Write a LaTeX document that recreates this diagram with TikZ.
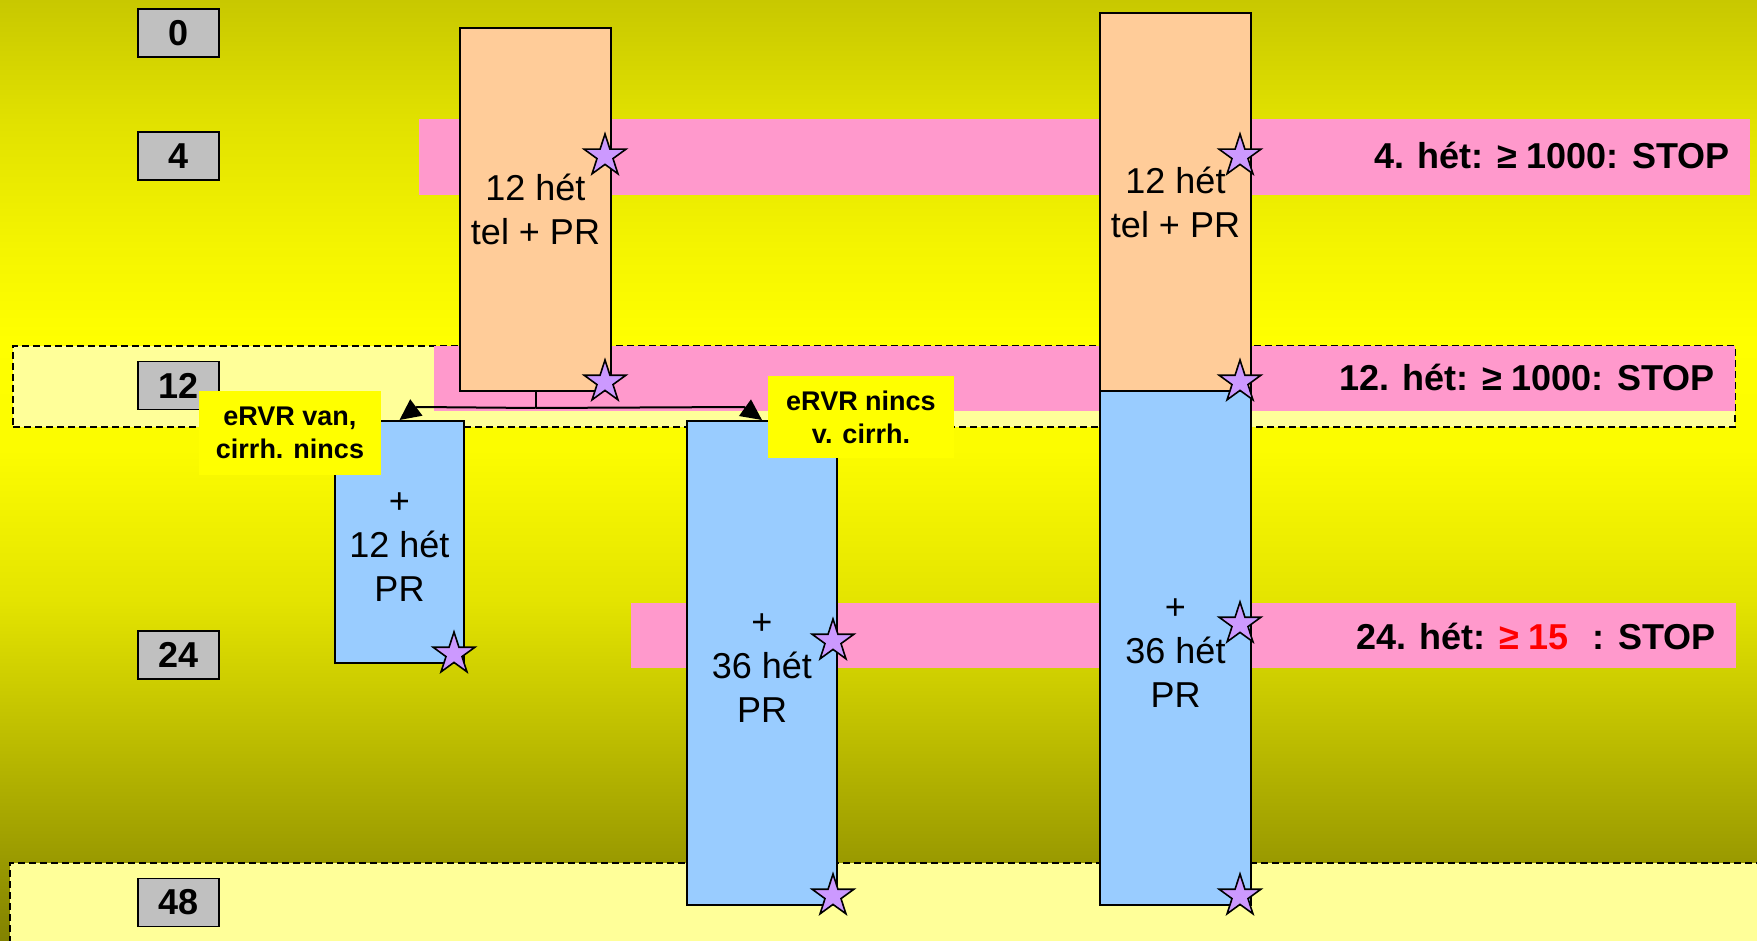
\documentclass[tikz,border=0pt]{standalone}
\usepackage{fontspec}
\setmainfont{Liberation Sans}
\usetikzlibrary{shapes.geometric,arrows.meta}
\definecolor{pinkband}{HTML}{FF99CC}
\definecolor{lightyel}{HTML}{FFFF99}
\definecolor{grayfill}{HTML}{C0C0C0}
\definecolor{orangefill}{HTML}{FFCC99}
\definecolor{bluefill}{HTML}{99CCFF}
\definecolor{starfill}{HTML}{CC99FF}
\definecolor{lblyel}{HTML}{FFFF00}
\definecolor{redtext}{HTML}{FF0000}
\pgfdeclareverticalshading{bgshade}{100bp}{rgb(0bp)=(0.51,0.51,0); rgb(25bp)=(0.51,0.51,0); rgb(29.14bp)=(0.6,0.6,0); rgb(37.81bp)=(0.784,0.784,0); rgb(43.12bp)=(0.894,0.894,0); rgb(51.09bp)=(0.988,0.988,0); rgb(56.93bp)=(1,1,0); rgb(61.72bp)=(0.96,0.96,0); rgb(68.62bp)=(0.882,0.882,0); rgb(75bp)=(0.784,0.784,0); rgb(100bp)=(0.784,0.784,0)}
\begin{document}
\begin{tikzpicture}[x=0.5pt,y=-0.5pt,
  numbox/.style={draw=black, line width=0.8pt, fill=grayfill, minimum width=40.5pt, minimum height=24pt, inner sep=0pt, font=\bfseries\fontsize{18}{21}\selectfont},
  dbox/.style={draw=black, dash pattern=on 3.5pt off 2pt, line width=1pt, fill=lightyel, inner sep=0pt},
  band/.style={fill=pinkband, inner sep=0pt},
  obox/.style={draw=black, line width=1pt, fill=orangefill, inner sep=0pt, align=center, font=\fontsize{18}{22}\selectfont},
  bluebox/.style={draw=black, line width=1pt, fill=bluefill, inner sep=0pt, align=center, font=\fontsize{18}{22}\selectfont},
  lbl/.style={fill=lblyel, inner sep=0pt, align=center, font=\bfseries\fontsize{13.5}{16.5}\selectfont},
  starshape/.style={star, star points=5, star point ratio=2.618, minimum size=22pt, inner sep=0pt, fill=starfill, draw=black, line width=0.8pt},
  conn/.style={line width=1pt, -{Triangle[length=10.5pt,width=10pt]}},
  bandtext/.style={anchor=base east, inner sep=0pt, font=\bfseries\fontsize{18}{22}\selectfont}
]
\useasboundingbox (0,0) rectangle (1757,941);
\clip (0,0) rectangle (1757,941);
\shade[shading=bgshade] (0,0) rectangle (1757,941);

% dashed light zones
\node[dbox, minimum width=861pt, minimum height=40.5pt] (db12) at (874,386.5) {};
\node[dbox, minimum width=885pt, minimum height=63.5pt] (db48) at (895,926.5) {};

% pink bands
\node[band, minimum width=665.5pt, minimum height=38pt] (p1) at (1084.5,157) {};
\node[band, minimum width=650.5pt, minimum height=32.5pt] (p2) at (1084.5,378.5) {};
\node[band, minimum width=552.5pt, minimum height=32.5pt] (p3) at (1183.5,635.5) {};

% week number boxes
\node[numbox] (n0) at (178.5,33) {0};
\node[numbox] (n4) at (178.5,156) {4};
\node[numbox] (n12) at (178.5,385.5) {12};
\node[numbox] (n24) at (178.5,655) {24};
\node[numbox] (n48) at (178.5,902.5) {48};

% therapy boxes
\node[obox, minimum width=75.5pt, minimum height=181.5pt] (A) at (535.5,209.5) {12 hét\\tel + PR};
\node[obox, minimum width=75.5pt, minimum height=189pt] (B) at (1175.5,202) {12 hét\\tel + PR};
\node[bluebox, minimum width=75.5pt, minimum height=257pt] (E) at (1175.5,648) {\rule{0pt}{15pt}+\\36 hét\\PR};
\node[bluebox, minimum width=64.5pt, minimum height=121pt] (C) at (399.5,542) {\rule{0pt}{15pt}+\\12 hét\\PR};
\node[bluebox, minimum width=75pt, minimum height=242pt] (D) at (762,663) {\rule{0pt}{15pt}+\\36 hét\\PR};

% connectors
\coordinate (jn) at ([yshift=-8pt]A.south);
\coordinate (bl) at (417,407);
\coordinate (br) at (744,407);
\draw[line width=1pt] (A.south) -- (jn);
\draw[conn] (jn) -- (bl) -- (C.north);
\draw[conn] (jn) -- (br) -- (D.north);

% labels
\node[lbl, minimum width=91pt, minimum height=42pt] (L1) at (290,433) {eRVR van,\\cirrh. nincs};
\node[lbl, minimum width=93pt, minimum height=41pt] (L2) at (861,417) {eRVR nincs\\v. cirrh.};

% stars
\node[starshape] (s1) at (605,156) {};
\node[starshape] (s2) at (605,382) {};
\node[starshape] (s3) at (454,654) {};
\node[starshape] (s4) at (833,641) {};
\node[starshape] (s5) at (833,896) {};
\node[starshape] (s6) at (1240,156) {};
\node[starshape] (s7) at (1240,382) {};
\node[starshape] (s8) at (1240,624) {};
\node[starshape] (s9) at (1240,896) {};

% band texts
\node[bandtext] (t1) at (1730,169) {4. hét: ≥ 1000: STOP};
\node[bandtext] (t2) at (1715,391) {12. hét: ≥ 1000: STOP};
\node[bandtext] (t3) at (1716,649) {24. hét: {\color{redtext}≥ 15}\hspace{7pt} : STOP};
\end{tikzpicture}
\end{document}
